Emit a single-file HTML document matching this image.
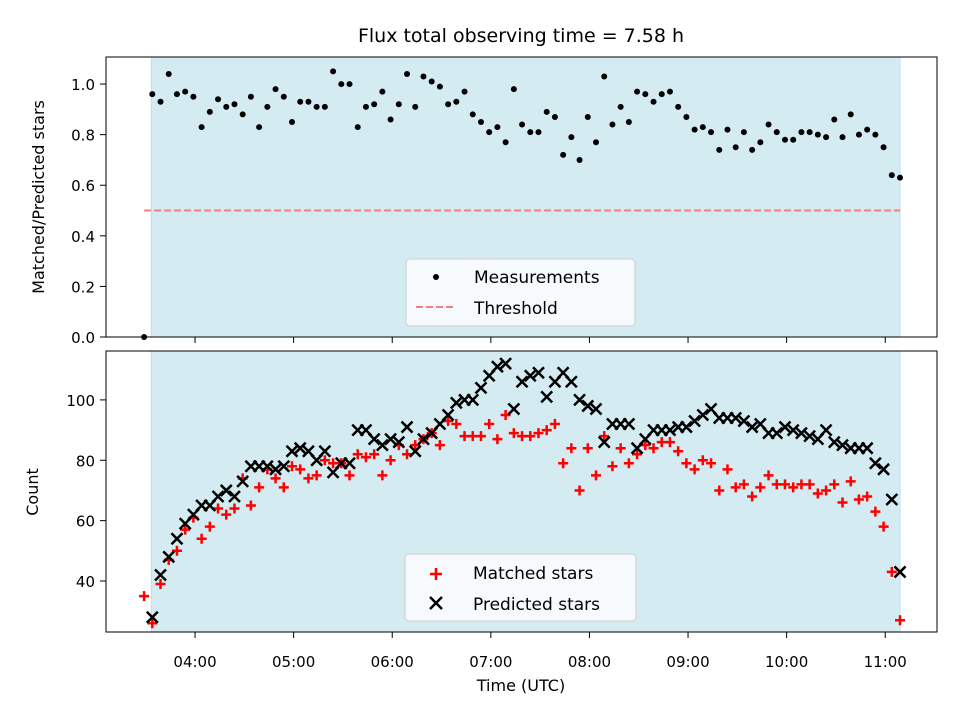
<!DOCTYPE html>
<html><head><meta charset="utf-8"><style>
body{margin:0;background:#fff;}
svg{font-family:"DejaVu Sans","Liberation Sans",sans-serif;}
</style></head><body>
<svg id="chart" width="960" height="720" xmlns="http://www.w3.org/2000/svg"></svg>
<script>
const times=["03:29","03:34","03:39","03:44","03:49","03:54","03:59","04:04","04:09","04:14","04:19","04:24","04:29","04:34","04:39","04:44","04:49","04:54","04:59","05:04","05:09","05:14","05:19","05:24","05:29","05:34","05:39","05:44","05:49","05:54","05:59","06:04","06:09","06:14","06:19","06:24","06:29","06:34","06:39","06:44","06:49","06:54","06:59","07:04","07:09","07:14","07:19","07:24","07:29","07:34","07:39","07:44","07:49","07:54","07:59","08:04","08:09","08:14","08:19","08:24","08:29","08:34","08:39","08:44","08:49","08:54","08:59","09:04","09:09","09:14","09:19","09:24","09:29","09:34","09:39","09:44","09:49","09:54","09:59","10:04","10:09","10:14","10:19","10:24","10:29","10:34","10:39","10:44","10:49","10:54","10:59","11:04","11:09"];
const ratio=[0,.96,.93,1.04,.96,.97,.95,.83,.89,.94,.91,.92,.88,.95,.83,.91,.98,.95,.85,.93,.93,.91,.91,1.05,1.0,1.0,.83,.91,.92,.97,.86,.92,1.04,.91,1.03,1.01,.99,.92,.93,.97,.88,.85,.81,.83,.77,.98,.84,.81,.81,.89,.87,.72,.79,.70,.87,.77,1.03,.84,.91,.85,.97,.96,.93,.96,.97,.91,.87,.82,.83,.81,.74,.82,.75,.81,.74,.77,.84,.81,.78,.78,.81,.81,.80,.79,.86,.79,.88,.80,.82,.80,.75,.64,.63];
const matched=[35,26,39,47,50,57,61,54,58,64,62,64,74,65,71,77,74,71,78,77,74,75,80,79,79,75,82,81,82,75,80,85,82,85,87,89,85,93,92,88,88,88,92,87,95,89,88,88,89,90,92,79,84,70,84,75,88,78,84,79,82,85,84,86,86,83,79,77,80,79,70,77,71,72,68,71,75,72,72,71,72,72,69,70,72,66,73,67,68,63,58,43,27];
const predicted=[null,28,42,48,54,59,62,65,65,68,70,68,73,78,78,78,77,78,83,84,83,80,83,76,79,79,90,90,87,85,87,86,91,83,87,89,92,95,99,100,100,104,108,111,112,97,106,108,109,101,106,109,106,100,98,97,86,92,92,92,84,87,90,90,90,91,91,93,95,97,94,94,94,93,91,92,89,89,91,90,89,88,87,90,86,85,84,84,84,79,77,67,43];
const xTicks=["04:00","05:00","06:00","07:00","08:00","09:00","10:00","11:00"];
const topTicks=[0,0.2,0.4,0.6,0.8,1.0];
const botTicks=[40,60,80,100];
const threshold=0.5;

const svg=document.getElementById('chart');const NS="http://www.w3.org/2000/svg";
function h(s){const p=s.split(':');return +p[0]+p[1]/60;}
function mk(t,a,parent){const e=document.createElementNS(NS,t);for(const k in a)e.setAttribute(k,a[k]);(parent||svg).appendChild(e);return e;}
const L=106,R=937,xmin=3.097,xmax=11.525;
const X=t=>L+(t-xmin)/(xmax-xmin)*(R-L);
const T={top:57,bot:337,min:0,max:1.107};
const B={top:351,bot:632,min:23.1,max:116.2};
const Y=(p,v)=>p.bot-(v-p.min)/(p.max-p.min)*(p.bot-p.top);
const shadeStart=h(times[1])-0.01, shadeEnd=h(times[times.length-1]);
function panel(p,name){
  const g=mk('g',{});
  const r=mk('rect',{x:X(shadeStart),y:p.top,width:X(shadeEnd)-X(shadeStart),height:p.bot-p.top,fill:'#d4ebf2',stroke:'#bde0ea'},g);
  
  return g;
}
function frame(p,g){const f=mk('rect',{x:L,y:p.top,width:R-L,height:p.bot-p.top,fill:'none',stroke:'#000','stroke-width':1},g);}
function xticks(p,g,labels){xTicks.forEach(s=>{const x=X(h(s));mk('line',{x1:x,x2:x,y1:p.bot,y2:p.bot+6,stroke:'#000'},g);if(labels){const t=mk('text',{x:x,y:p.bot+35,'font-size':15,'text-anchor':'middle'},g);t.textContent=s;}});}
function yticks(p,g,ticks,fmt){ticks.forEach(v=>{const y=Y(p,v);mk('line',{x1:L-6,x2:L,y1:y,y2:y,stroke:'#000'},g);const t=mk('text',{x:L-11,y:y+6,'font-size':15,'text-anchor':'end'},g);t.textContent=fmt(v);});}

// top
const gt=panel(T,'ratio-panel');
const th=mk('line',{x1:X(h(times[0])),x2:X(shadeEnd),y1:Y(T,threshold),y2:Y(T,threshold),stroke:'#f08080','stroke-width':2,'stroke-dasharray':'7,3'},gt);

ratio.forEach((v,i)=>{const c=mk('circle',{cx:X(h(times[i])),cy:Y(T,v),r:3,fill:'#000'},gt);});
frame(T,gt);xticks(T,gt,false);yticks(T,gt,topTicks,v=>v.toFixed(1));
const lg1=mk('g',{},gt);
mk('rect',{x:406,y:259,width:229,height:67,rx:4,fill:'#f7fafc',stroke:'#ccc'},lg1);
mk('circle',{cx:436,cy:277,r:3,fill:'#000'},lg1);
mk('line',{x1:416,x2:456,y1:307,y2:307,stroke:'#f08080','stroke-width':2,'stroke-dasharray':'7,3'},lg1);
let t=mk('text',{x:474,y:283,'font-size':17},lg1);t.textContent='Measurements';
t=mk('text',{x:474,y:314,'font-size':17},lg1);t.textContent='Threshold';

// bottom
const gb=panel(B,'count-panel');
matched.forEach((v,i)=>{if(v==null)return;const x=X(h(times[i])),y=Y(B,v);const p=mk('path',{d:`M${x-5},${y}H${x+5}M${x},${y-5}V${y+5}`,stroke:'#f00','stroke-width':2.5},gb);});
predicted.forEach((v,i)=>{if(v==null)return;const x=X(h(times[i])),y=Y(B,v);const p=mk('path',{d:`M${x-5.5},${y-5.5}L${x+5.5},${y+5.5}M${x-5.5},${y+5.5}L${x+5.5},${y-5.5}`,stroke:'#000','stroke-width':2.5},gb);});
frame(B,gb);xticks(B,gb,true);yticks(B,gb,botTicks,v=>String(v));
const lg2=mk('g',{},gb);
mk('rect',{x:405,y:554,width:231,height:67,rx:4,fill:'#f7fafc',stroke:'#ccc'},lg2);
mk('path',{d:'M430,574H442M436,568V580',stroke:'#f00','stroke-width':2.5},lg2);
mk('path',{d:'M430,597L442,609M430,609L442,597',stroke:'#000','stroke-width':2.5},lg2);
t=mk('text',{x:473,y:579,'font-size':17},lg2);t.textContent='Matched stars';
t=mk('text',{x:473,y:610,'font-size':17},lg2);t.textContent='Predicted stars';

// titles
t=mk('text',{x:521,y:42,'font-size':19,'text-anchor':'middle'});t.textContent='Flux total observing time = 7.58 h';
t=mk('text',{x:521,y:691,'font-size':16,'text-anchor':'middle'});t.textContent='Time (UTC)';
t=mk('text',{x:0,y:0,'font-size':16,'text-anchor':'middle',transform:'translate(44,197) rotate(-90)'});t.textContent='Matched/Predicted stars';
t=mk('text',{x:0,y:0,'font-size':16,'text-anchor':'middle',transform:'translate(38,492) rotate(-90)'});t.textContent='Count';
</script>
</body></html>
